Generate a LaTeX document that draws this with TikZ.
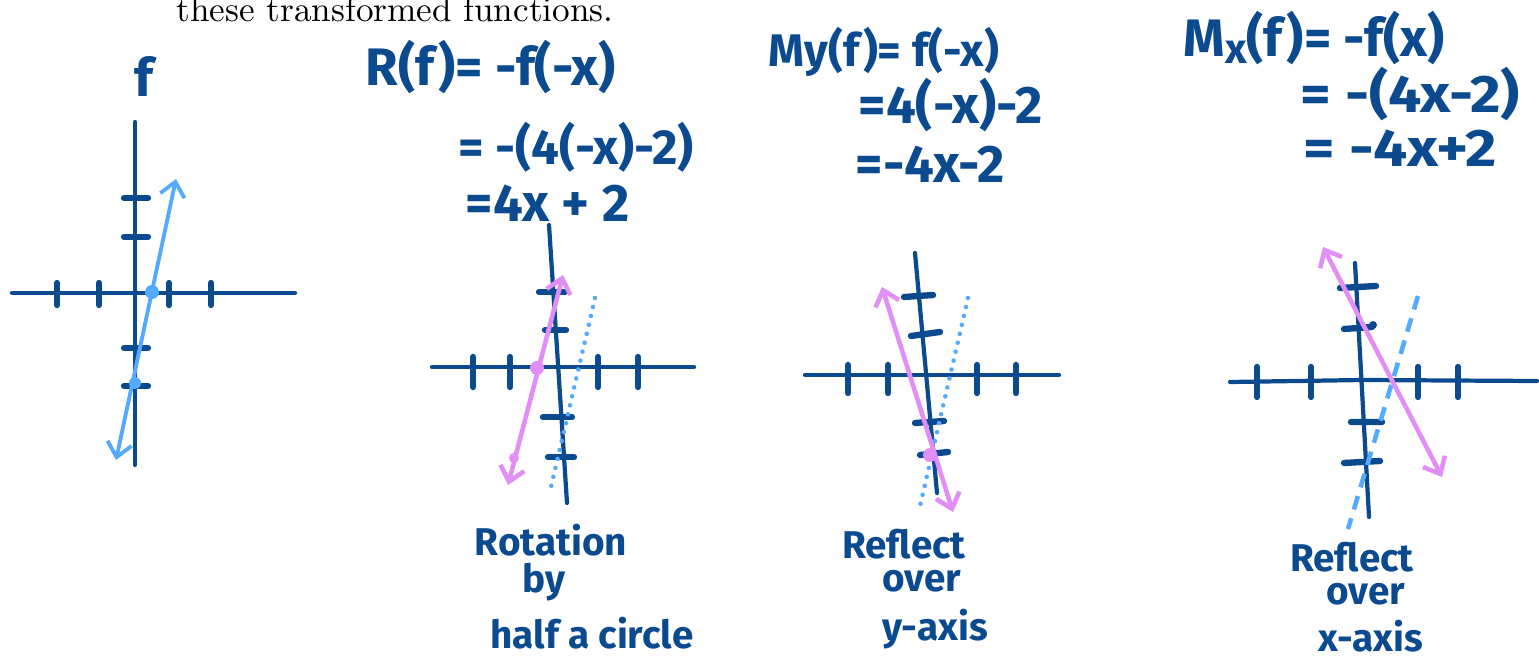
\documentclass[tikz,border=0pt]{standalone}
\usepackage{fontspec}
\newfontfamily\hand{Fira Sans}
\usetikzlibrary{arrows.meta}
\definecolor{inkblue}{HTML}{0B4A8F}
\definecolor{fblue}{HTML}{55AAFF}
\definecolor{fpink}{HTML}{E28EF7}

\begin{document}
\begin{tikzpicture}[x=0.01cm, y=-0.01cm,
    ax/.style={draw=inkblue, line width=1.2pt, line cap=round},
    tk/.style={draw=inkblue, line width=1.8pt, line cap=round},
    fl/.style={draw=fblue, line width=1.1pt, {Straight Barb[length=4pt,width=7pt]}-{Straight Barb[length=4pt,width=7pt]}},
    gl/.style={draw=fpink, line width=1.3pt, {Straight Barb[length=4pt,width=7pt]}-{Straight Barb[length=4pt,width=7pt]}},
    dotl/.style={draw=fblue, line width=1.3pt, line cap=round, dash pattern=on 0.01pt off 2.6pt},
    dashl/.style={draw=fblue, line width=1.3pt, dash pattern=on 4pt off 2.6pt},
    hw/.style={text=inkblue, font=\hand\bfseries\fontsize{15}{17}\selectfont, inner sep=0pt, anchor=base west},
    lb/.style={text=inkblue, inner sep=0pt, anchor=base, font=\hand\bfseries\fontsize{11}{13}\selectfont}]
  \useasboundingbox (0,0) rectangle (1539,661);

  \node[anchor=base, inner sep=0pt, font=\fontsize{10}{12}\selectfont] (intro) at (395,22) {these transformed functions.};

  % f
  \node[hw, anchor=base] (fname) at (144,97) {f};
  \draw[ax] (12,293) -- (295,293);
  \draw[ax] (135,122) -- (135,465);
  \foreach \x in {57,99,169,211} \draw[tk] (\x,283) -- (\x,305);
  \foreach \y in {198,237,348,386} \draw[tk] (124,\y) -- (148,\y);
  \draw[fl] (116,460) -- (176,179);
  \fill[fblue] (152,292) circle (7) (135,383) circle (6);

  % R(f)
  \node[hw] (req1) at (365,86) {R(f)= -f(-x)};
  \node[hw, font=\hand\bfseries\fontsize{14}{16}\selectfont] (req2) at (458,165) {= -(4(-x)-2)};
  \node[hw] (req3) at (465,222) {=4x + 2};
  \draw[ax] (432,367) -- (694,367);
  \draw[ax] (549,225) -- (567,503);
  \foreach \x in {473,510,598,638} \draw[tk] (\x,357) -- (\x,387);
  \draw[tk] (539,292) -- (565,292) (545,330) -- (566,330) (543,417) -- (572,417) (548,457) -- (574,457);
  \draw[dotl] (595,298) -- (551,487);
  \draw[gl] (508,485) -- (563,275);
  \fill[fpink] (537,368) circle (7) (514,458) circle (5);
  \node[lb] (rot1) at (551,555) {Rotation};
  \node[lb] (rot2) at (544,593) {by};
  \node[lb] (rot3) at (592,648) {half a circle};

  % My(f)
  \node[hw, font=\hand\bfseries\fontsize{13}{15}\selectfont] (yeq1) at (768,67) {My(f)= f(-x)};
  \node[hw] (yeq2) at (858,124) {=4(-x)-2};
  \node[hw] (yeq3) at (855,183) {=-4x-2};
  \draw[ax] (805,375) -- (1059,375);
  \draw[ax] (915,253) -- (937,493);
  \foreach \x in {848,888,977,1016} \draw[tk] (\x,365) -- (\x,393);
  \draw[tk] (904,297) -- (933,295) (911,336) -- (940,332) (915,423) -- (944,421) (920,455) -- (948,452);
  \draw[dotl] (968,298) -- (920,506);
  \draw[gl] (882,287) -- (953,512);
  \fill[fpink] (930,455) circle (7);
  \node[lb] (ry1) at (904,558) {Reflect};
  \node[lb] (ry2) at (922,592) {over};
  \node[lb] (ry3) at (935,640) {y-axis};

  % Mx(f)
  \node[hw] (xeq1) at (1183,57) {M\raisebox{-0.25ex}{\fontsize{12}{14}\selectfont x}(f)= -f(x)};
  \node[hw] (xeq2) at (1300,113) {\scalebox{1.12}[1]{= -(4x-2)}};
  \node[hw] (xeq3) at (1303,167) {\scalebox{1.15}[1]{= -4x+2}};
  \draw[ax] (1230,382) -- (1363,380) -- (1537,381);
  \draw[ax] (1355,263) -- (1369,517);
  \foreach \x in {1257,1311,1418,1458} \draw[tk] (\x,367) -- (\x,397);
  \draw[tk] (1340,288) -- (1376,286) (1344,329) -- (1372,327) (1351,422) -- (1382,422) (1344,463) -- (1380,461);
  \fill[inkblue] (1373,325) circle (4);
  \draw[dashl] (1418,296) -- (1348,529);
  \draw[gl] (1323,247) -- (1442,477);
  \node[lb] (rx1) at (1352,571) {Reflect};
  \node[lb] (rx2) at (1366,604) {over};
  \node[lb] (rx3) at (1371,652) {x-axis};
\end{tikzpicture}
\end{document}
